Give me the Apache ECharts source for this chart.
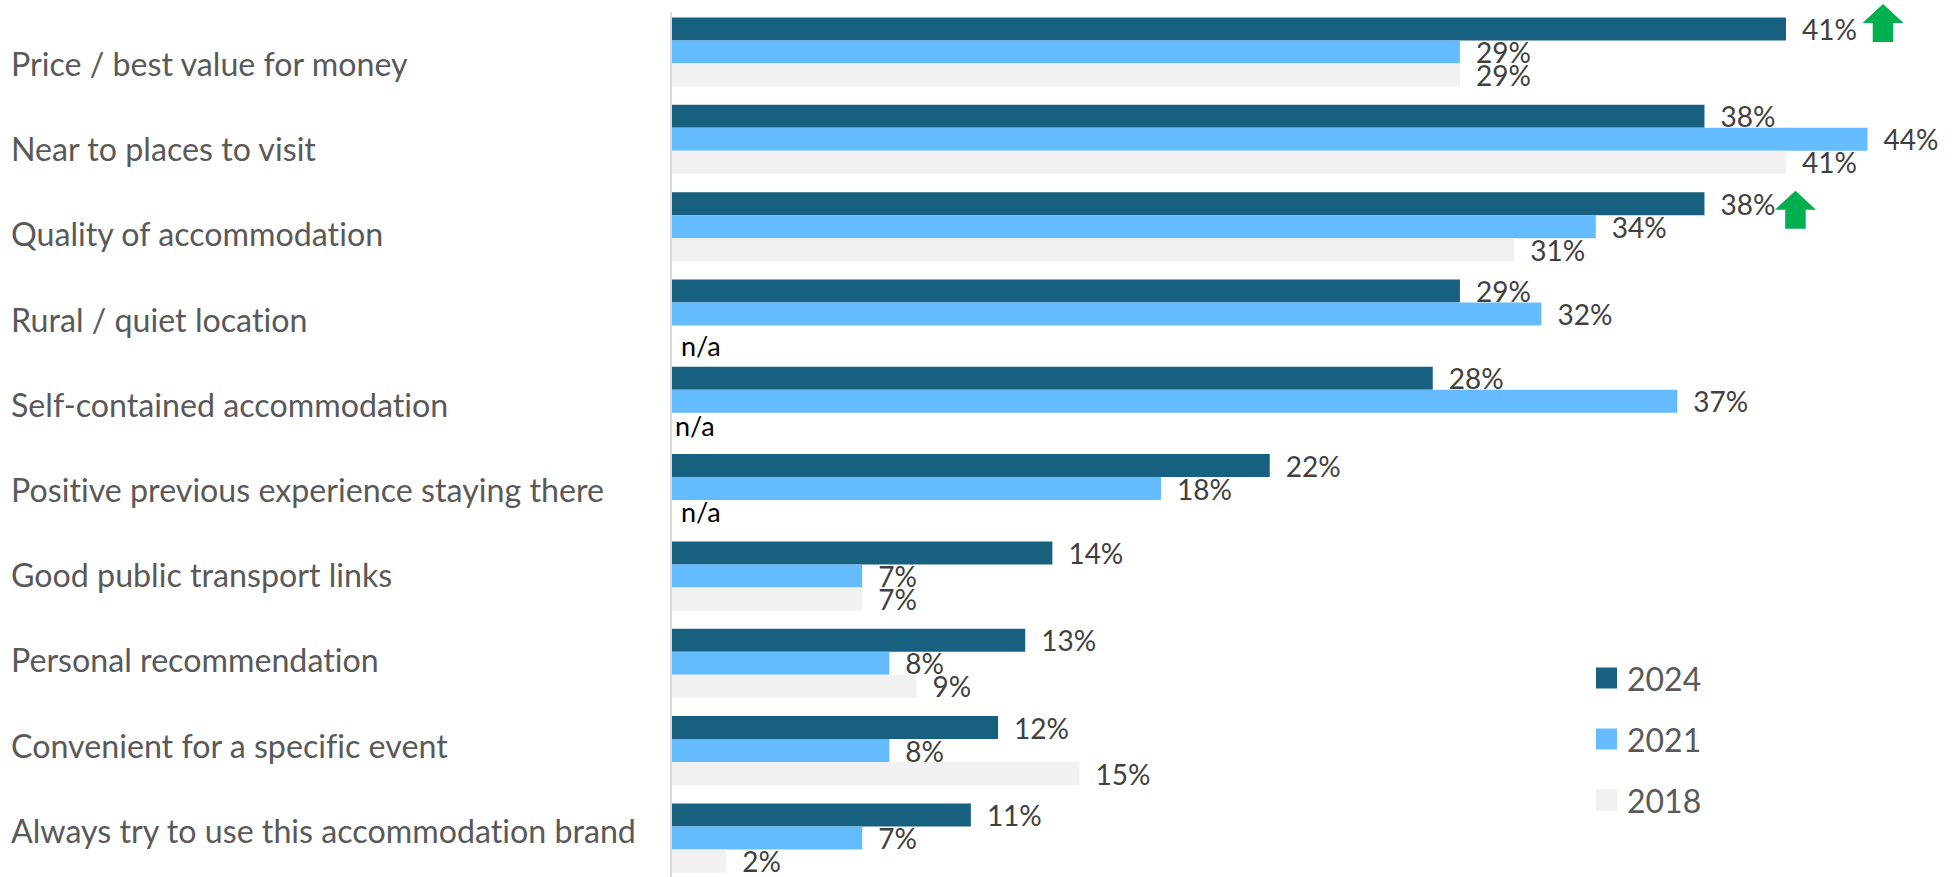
<!DOCTYPE html>
<html>
<head>
<meta charset="utf-8">
<style>
html,body{margin:0;padding:0;background:#fff}
#chart{width:1952px;height:877px}
#chart text{font-variant-ligatures:none}
</style>
<script src="https://cdn.jsdelivr.net/npm/echarts@6/dist/echarts.min.js"></script>
</head>
<body>
<div id="chart"></div>
<script>
// Reasons for choosing accommodation, % of respondents by survey year
const categories = [
  'Price / best value for money',
  'Near to places to visit',
  'Quality of accommodation',
  'Rural / quiet location',
  'Self-contained accommodation',
  'Positive previous experience staying there',
  'Good public transport links',
  'Personal recommendation',
  'Convenient for a specific event',
  'Always try to use this accommodation brand'
];
const values2024 = [41, 38, 38, 29, 28, 22, 14, 13, 12, 11];
const values2021 = [29, 44, 34, 32, 37, 18, 7, 8, 8, 7];
const values2018 = [29, 41, 31, null, null, null, 7, 9, 15, 2];
const significantRises = [[41, 0], [38, 2]];

const LABEL_FONT = 'Lato, "Open Sans", sans-serif';

// Small nudges that keep "n/a" clear of the neighbouring bars
const naOffsets = { 3: [0, 9], 4: [-6, 1], 5: [0, 0] };

function barSeries(name, values, color) {
  return {
    name, type: 'bar', barWidth: 23, barGap: 0,
    xAxisIndex: 0, yAxisIndex: 0,
    itemStyle: { color },
    label: {
      show: true, position: 'right', distance: 16,
      fontFamily: LABEL_FONT, fontSize: 28, color: '#404040',
      formatter: p => p.value + '%'
    },
    data: values.map((v, i) => v === null
      ? { value: 0, label: { formatter: 'n/a', color: '#000', distance: 9, fontSize: 27, offset: naOffsets[i] } }
      : v)
  };
}

const series = [
  barSeries('2024', values2024, '#17607F'),
  barSeries('2021', values2021, '#64BCFF'),
  barSeries('2018', values2018, '#F1F1F1')
];
// Arrows flag the rises since the previous survey
series[0].markPoint = {
  silent: true,
  symbol: 'path://M20 0 L40 19 L30 19 L30 38 L10 38 L10 19 L0 19 Z',
  symbolSize: [41, 38],
  itemStyle: { color: '#00B050' },
  label: { show: false },
  data: significantRises.map(([v, i]) => ({
    coord: [v, categories[i]],
    symbolOffset: i === 0 ? [97, -6] : [91, 6]
  }))
};

const chart = echarts.init(document.getElementById('chart'), null, { renderer: 'svg' });
chart.setOption({
  animation: false,
  backgroundColor: '#fff',
  // Bars use the first grid; the category names sit in a slightly tighter one
  grid: [
    { outerBoundsMode: 'none', left: 672, top: 8.3, width: 1195.5, height: 873.3 },
    { outerBoundsMode: 'none', left: 672, top: 20.8, width: 1195.5, height: 852 }
  ],
  xAxis: [
    { gridIndex: 0, type: 'value', min: 0, max: 44, show: false },
    { gridIndex: 1, type: 'value', min: 0, max: 44, show: false }
  ],
  yAxis: [
    { gridIndex: 0, type: 'category', inverse: true, data: categories,
      axisLine: { show: false }, axisTick: { show: false }, axisLabel: { show: false } },
    { gridIndex: 1, type: 'category', inverse: true, data: categories,
      axisLine: { show: false }, axisTick: { show: false },
      axisLabel: {
        fontFamily: LABEL_FONT, fontSize: 32.2, color: '#595959',
        align: 'left', margin: 661
      } }
  ],
  legend: {
    left: 1596, top: 662, padding: 0, orient: 'vertical',
    itemWidth: 21, itemHeight: 21, itemGap: 29,
    icon: 'rect',
    textStyle: { fontFamily: LABEL_FONT, fontSize: 32, color: '#595959', padding: [0, 0, 4, 5] },
    data: ['2024', '2021', '2018']
  },
  graphic: [{
    type: 'rect', silent: true,
    shape: { x: 670, y: 12, width: 2, height: 865 },
    style: { fill: '#D9D9D9' }
  }],
  series
});
</script>
</body>
</html>
